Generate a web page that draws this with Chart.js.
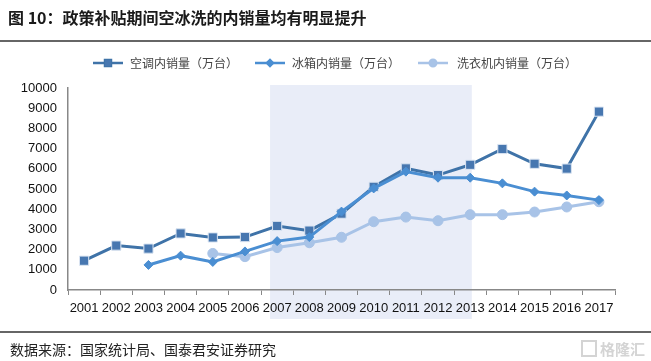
<!DOCTYPE html>
<html>
<head>
<meta charset="utf-8">
<script src="https://cdn.jsdelivr.net/npm/chart.js@4.4.0/dist/chart.umd.min.js"></script>
<style>
  html, body { margin: 0; padding: 0; background: #fff; }
  #wrap { position: relative; width: 651px; height: 361px; }
</style>
</head>
<body>
<div id="wrap"><canvas id="myChart" width="651" height="361"></canvas></div>
<script>
const years = ['2001','2002','2003','2004','2005','2006','2007','2008','2009','2010','2011','2012','2013','2014','2015','2016','2017'];
const acSales = [1450, 2200, 2050, 2800, 2600, 2620, 3170, 2940, 3780, 5110, 6020, 5690, 6200, 6980, 6250, 6010, 8830];
const fridgeSales = [null, null, 1240, 1700, 1390, 1910, 2420, 2620, 3880, 5030, 5860, 5560, 5560, 5280, 4870, 4680, 4450];
const washerSales = [null, null, null, null, 1810, 1650, 2100, 2340, 2610, 3380, 3610, 3430, 3730, 3730, 3860, 4110, 4370];
const yTicks = [0, 1000, 2000, 3000, 4000, 5000, 6000, 7000, 8000, 9000, 10000];
const seriesNames = ['空调内销量（万台）', '冰箱内销量（万台）', '洗衣机内销量（万台）'];
// subsidy period shading, in category index units
const shadeFrom = 5.78, shadeTo = 12.05;

const ctx = document.getElementById('myChart');

// shaded band + title, footer and legend
const decor = {
  id: 'decor',
  beforeDraw(chart) {
    const c = chart.ctx, x = chart.scales.x, a = chart.chartArea;
    const x0 = x.getPixelForValue(shadeFrom), x1 = x.getPixelForValue(shadeTo);
    c.save();
    c.fillStyle = '#e9edf8';
    c.fillRect(x0, a.top - 3, x1 - x0, a.bottom - a.top + 32);
    c.restore();
  },
  afterDraw(chart) {
    const c = chart.ctx;
    c.save();
    // title
    c.fillStyle = '#1a1a1a';
    c.font = 'bold 16px "Noto Sans CJK SC", sans-serif';
    c.textBaseline = 'middle';
    c.fillText('图 10：政策补贴期间空冰洗的内销量均有明显提升', 8, 18);
    c.strokeStyle = '#333';
    c.lineWidth = 1.5;
    c.beginPath(); c.moveTo(0, 41); c.lineTo(651, 41); c.stroke();
    c.beginPath(); c.moveTo(0, 332); c.lineTo(651, 332); c.stroke();
    // footer
    c.font = '14px "Noto Sans CJK SC", sans-serif';
    c.fillStyle = '#222';
    c.fillText('数据来源：国家统计局、国泰君安证券研究', 10, 350);
    c.font = 'bold 15px "Noto Sans CJK SC", sans-serif';
    c.fillStyle = '#d4d4d4';
    c.fillText('格隆汇', 600, 349);
    c.strokeStyle = '#d4d4d4';
    c.lineWidth = 2;
    c.strokeRect(582, 341, 14, 15);
    // legend
    const items = [[93, 130], [255, 292], [418, 457]];
    c.font = '12px "Noto Sans CJK SC", sans-serif';
    chart.data.datasets.forEach((ds, i) => {
      const [lx, tx] = items[i];
      const y = 63;
      c.strokeStyle = ds.borderColor;
      c.lineWidth = 2.5;
      c.beginPath(); c.moveTo(lx, y); c.lineTo(lx + 30, y); c.stroke();
      Chart.helpers.drawPoint(c, {
        pointStyle: ds.pointStyle, radius: ds.pointRadius * 0.65,
        borderWidth: 1, rotation: 0
      }, lx + 15, y);
      c.fillStyle = ds.pointBackgroundColor;
      c.fill();
      c.fillStyle = '#444';
      c.fillText(seriesNames[i], tx, y);
    });
    c.restore();
  }
};

new Chart(ctx, {
  type: 'line',
  data: {
    labels: years,
    datasets: [
      {
        label: seriesNames[0],
        data: acSales,
        borderColor: '#3f73a8',
        backgroundColor: '#4777b0',
        pointBackgroundColor: '#4777b0',
        pointBorderColor: '#dbe5f2',
        pointBorderWidth: 1,
        borderWidth: 3,
        pointStyle: 'rect',
        pointRadius: 6.5,
        order: 1
      },
      {
        label: seriesNames[1],
        data: fridgeSales,
        borderColor: '#4a8ed2',
        backgroundColor: '#4a8ed2',
        pointBackgroundColor: '#4a8ed2',
        pointBorderColor: '#4a8ed2',
        pointBorderWidth: 1,
        borderWidth: 3,
        pointStyle: 'rectRot',
        pointRadius: 4.5,
        order: 0
      },
      {
        label: seriesNames[2],
        data: washerSales,
        borderColor: '#a8c3e7',
        backgroundColor: '#a8c3e7',
        pointBackgroundColor: '#a8c3e7',
        pointBorderColor: '#a8c3e7',
        pointBorderWidth: 1,
        borderWidth: 3,
        pointStyle: 'circle',
        pointRadius: 5,
        order: 2
      }
    ]
  },
  options: {
    responsive: false,
    animation: false,
    layout: { padding: { left: 0, right: 36, top: 88, bottom: 0 } },
    plugins: {
      legend: { display: false },
      tooltip: { enabled: false }
    },
    scales: {
      x: {
        offset: true,
        grid: { drawOnChartArea: false, drawTicks: true, tickLength: 5, offset: true, color: '#888', lineWidth: 1 },
        border: { color: '#888', width: 1.5 },
        ticks: { autoSkip: false, maxRotation: 0, padding: 6, color: '#111', font: { family: 'Arial, "Liberation Sans"', size: 13 } },
        afterFit(s) { s.height = 71; }
      },
      y: {
        min: 0, max: 10000,
        afterBuildTicks(s) { s.ticks = yTicks.map(v => ({ value: v })); },
        grid: { drawOnChartArea: false, drawTicks: false },
        border: { color: '#888', width: 1.5 },
        ticks: { padding: 11, color: '#111', font: { family: 'Arial, "Liberation Sans"', size: 13 }, callback: v => String(v) },
        afterFit(s) { s.width = 68; }
      }
    }
  },
  plugins: [decor]
});
</script>
</body>
</html>
